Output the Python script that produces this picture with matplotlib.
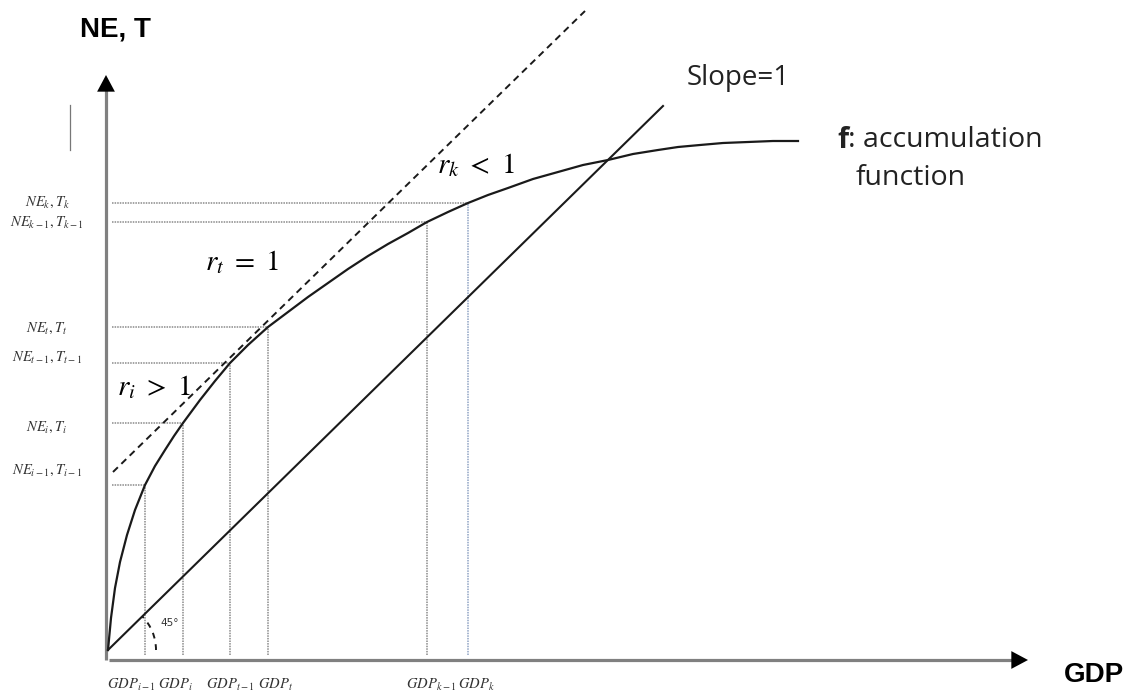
import matplotlib.pyplot as plt
from matplotlib.patches import Arc

plt.rcParams['mathtext.fontset'] = 'stix'

# accumulation function f (GDP vs NE,T)
gdp_curve = [0, 3, 7, 12, 19, 27, 37, 47, 57, 66, 75, 92, 107, 122, 140, 160, 180, 200, 220, 240, 260, 280,
             300, 319, 340, 360, 380, 400, 425, 450, 475, 500, 525, 550, 570, 592, 615, 640, 665, 690]
ne_curve = [0, 32, 62, 88, 115, 140, 165, 184, 200, 214, 227, 250, 269, 287, 305, 323, 338, 353, 367, 381, 394, 406,
            417, 428, 438, 447, 455, 462, 471, 478, 485, 490, 496, 500, 503, 505, 507, 508, 509, 509]

# marked points on the curve
gdp_marks = [37, 75, 122, 160, 319, 360]
ne_marks = [165, 227, 287, 323, 428, 447]
gdp_labels = [r'$GDP_{i-1}$', r'$GDP_i$', r'$GDP_{t-1}$', r'$GDP_t$', r'$GDP_{k-1}$', r'$GDP_k$']
gdp_label_pos = [23, 67, 122, 168, 323, 368]
ne_labels = [r'$NE_{i-1},T_{i-1}$', r'$NE_i,T_i$', r'$NE_{t-1},T_{t-1}$', r'$NE_t,T_t$',
             r'$NE_{k-1},T_{k-1}$', r'$NE_k,T_k$']
ne_label_pos = [180, 223, 293, 322, 428, 448]

# 45 degree line and the tangent (r_t = 1)
slope_gdp = [0, 555]
slope_ne = [0, 544]
tangent_gdp = [5, 477]
tangent_ne = [178, 639]

fig = plt.figure(figsize=(11.3, 6.94), dpi=100)
ax = fig.add_axes([0, 0, 1, 1])
ax.set_xlim(-108, 1022)
ax.set_ylim(-44, 650)
ax.axis('off')

# axes with arrows
ax.plot([-2, -2], [-10, 562], color='#808080', lw=2.3, solid_capstyle='butt')
ax.plot([1, 906], [-10, -10], color='#808080', lw=2.3, solid_capstyle='butt')
head = dict(arrowstyle='-|>,head_length=0.6,head_width=0.32', color='black',
            mutation_scale=20, shrinkA=0, shrinkB=0, lw=0)
ax.annotate('', xy=(-2, 575), xytext=(-2, 560), arrowprops=head)
ax.annotate('', xy=(920, -10), xytext=(905, -10), arrowprops=head)

# stray mark left of the axis
ax.plot([-38, -38], [500, 545], color='#777777', lw=0.9)

# guide lines
for i, (gx, ny) in enumerate(zip(gdp_marks, ne_marks)):
    col = '#8fa3c4' if i == len(gdp_marks) - 1 else '#8a8a8a'
    ax.plot([4, gx], [ny, ny], color='#8a8a8a', lw=1.1, ls=(0, (1, 0.7)))
    ax.plot([gx, gx], [-5, ny], color=col, lw=1.1, ls=(0, (1, 0.7)))

ax.plot(gdp_curve, ne_curve, color='#1a1a1a', lw=1.6, solid_joinstyle='round')
ax.plot(slope_gdp, slope_ne, color='#1a1a1a', lw=1.5)
ax.plot(tangent_gdp, tangent_ne, color='#1a1a1a', lw=1.4, ls=(0, (3.5, 2.5)))

ax.add_patch(Arc((0, 0), 96, 96, theta1=0, theta2=44, color='#1a1a1a', lw=1.4, ls=(0, (3, 3))))
ax.text(62, 27, '45°', fontsize=7.5, ha='center', va='center', color='#333333')

for lab, x in zip(gdp_labels, gdp_label_pos):
    ax.text(x, -35, lab, fontsize=10.5, ha='center', va='center', color='#333333')
for lab, y in zip(ne_labels, ne_label_pos):
    ax.text(-61, y, lab, fontsize=10.5, ha='center', va='center', color='#333333')

ax.text(9, 263, r'$r_i\ >\ 1$', fontsize=21, ha='left', va='center')
ax.text(97, 388, r'$r_t\ =\ 1$', fontsize=21, ha='left', va='center')
ax.text(329, 485, r'$r_k\ <\ 1$', fontsize=21, ha='left', va='center')

ax.text(7, 621, 'NE, T', fontsize=20, fontweight='bold', family='Liberation Sans', ha='center', va='center')
ax.text(986, -25, 'GDP', fontsize=20, fontweight='bold', family='Liberation Sans', ha='center', va='center')
ax.text(630, 572, 'Slope=1', fontsize=20, family='Open Sans', ha='center', va='center', color='#222222')
ax.text(729, 510, 'f', fontsize=20.5, fontweight='bold', family='Open Sans', ha='left', va='center', color='#222222')
ax.text(740, 510, ': accumulation', fontsize=20.5, family='Open Sans', ha='left', va='center', color='#222222')
ax.text(748, 472, 'function', fontsize=20.5, family='Open Sans', ha='left', va='center', color='#222222')

fig.savefig('out.png', dpi=100)
